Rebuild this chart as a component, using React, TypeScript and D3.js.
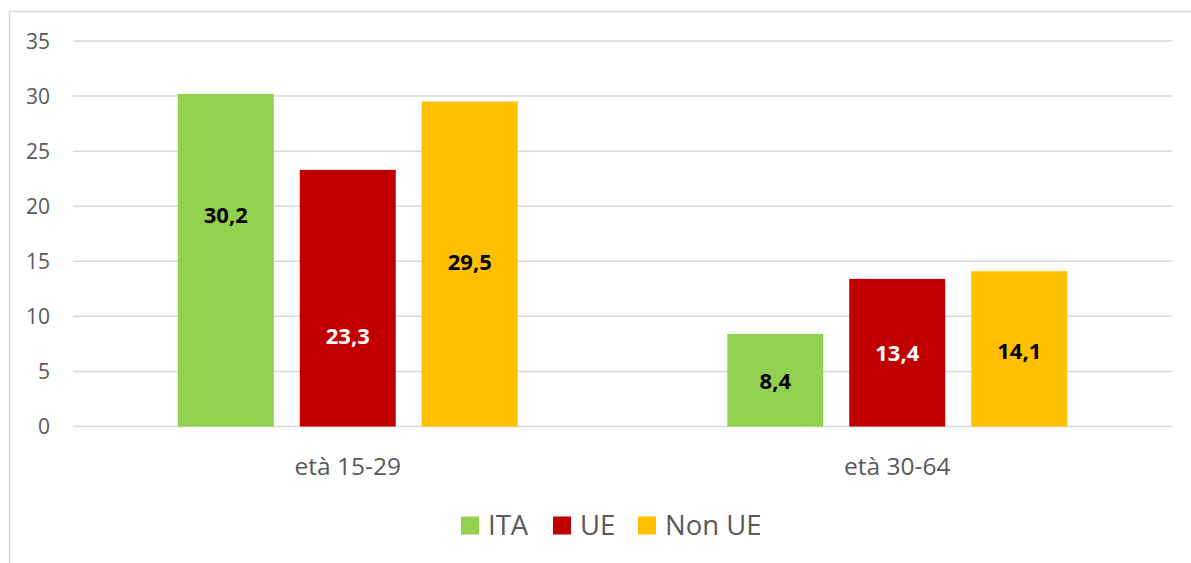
import React from "react";
import * as d3 from "d3";

const categories = ["età 15-29", "età 30-64"];
const seriesNames = ["ITA", "UE", "Non UE"];
const seriesColors = ["#92D050", "#C00000", "#FFC000"];
const labelColors = ["#000000", "#FFFFFF", "#000000"];
const values = [
  [30.2, 8.4],
  [23.3, 13.4],
  [29.5, 14.1],
];
// label anchor positions (in value units), as placed in the original
const labelAt = [
  [19.2, 4.1],
  [8.2, 6.7],
  [14.9, 6.9],
];
const yTicks = [0, 5, 10, 15, 20, 25, 30, 35];

const W = 1191;
const H = 563;
const plot = { left: 73, right: 1172, top: 41, bottom: 426.5 };
const FONT = "'Open Sans', 'Noto Sans', sans-serif";

export default function App() {
  const x0 = d3.scaleBand<string>().domain(categories).range([plot.left, plot.right]).padding(0);
  const x1 = d3
    .scaleBand<string>()
    .domain(seriesNames)
    .range([0, x0.bandwidth()])
    .paddingInner(26 / 122)
    .paddingOuter(0.859);
  const y = d3.scaleLinear().domain([0, 35]).range([plot.bottom, plot.top]);
  const fmt = (v: number) => v.toFixed(1).replace(".", ",");

  const legendItems = [
    { sx: 461, tx: 488 },
    { sx: 553, tx: 580 },
    { sx: 638, tx: 665 },
  ];

  return (
    <svg
      width={W}
      height={H}
      style={{ position: "absolute", left: 0, top: 0, background: "#fff" }}
      fontFamily={FONT}
    >
      <rect x={9.5} y={11.5} width={W} height={H} fill="none" stroke="#D9D9D9" strokeWidth={1.5} />
      {yTicks.map((t) => (
        <g key={t}>
          <line x1={plot.left} x2={plot.right} y1={y(t)} y2={y(t)} stroke="#D9D9D9" strokeWidth={1.5} />
          <text x={50} y={y(t) + 7.5} textAnchor="end" fontSize={21} fill="#595959">
            {t}
          </text>
        </g>
      ))}
      {categories.map((c, ci) => (
        <g key={c}>
          {seriesNames.map((s, si) => {
            const bx = x0(c)! + x1(s)!;
            const bw = x1.bandwidth();
            const v = values[si][ci];
            return (
              <g key={s}>
                <rect x={bx} y={y(v)} width={bw} height={y(0) - y(v)} fill={seriesColors[si]} />
                <text
                  x={bx + bw / 2}
                  y={y(labelAt[si][ci]) + 8}
                  textAnchor="middle"
                  fontSize={22}
                  fontWeight="bold"
                  fill={labelColors[si]}
                >
                  {fmt(v)}
                </text>
              </g>
            );
          })}
          <text
            x={x0(c)! + x0.bandwidth() / 2}
            y={474.5}
            textAnchor="middle"
            fontSize={24.5}
            fill="#595959"
          >
            {c}
          </text>
        </g>
      ))}
      {seriesNames.map((s, i) => (
        <g key={s}>
          <rect x={legendItems[i].sx} y={516.5} width={18} height={18} fill={seriesColors[i]} />
          <text x={legendItems[i].tx} y={535} fontSize={27.5} fill="#595959">
            {s}
          </text>
        </g>
      ))}
    </svg>
  );
}
